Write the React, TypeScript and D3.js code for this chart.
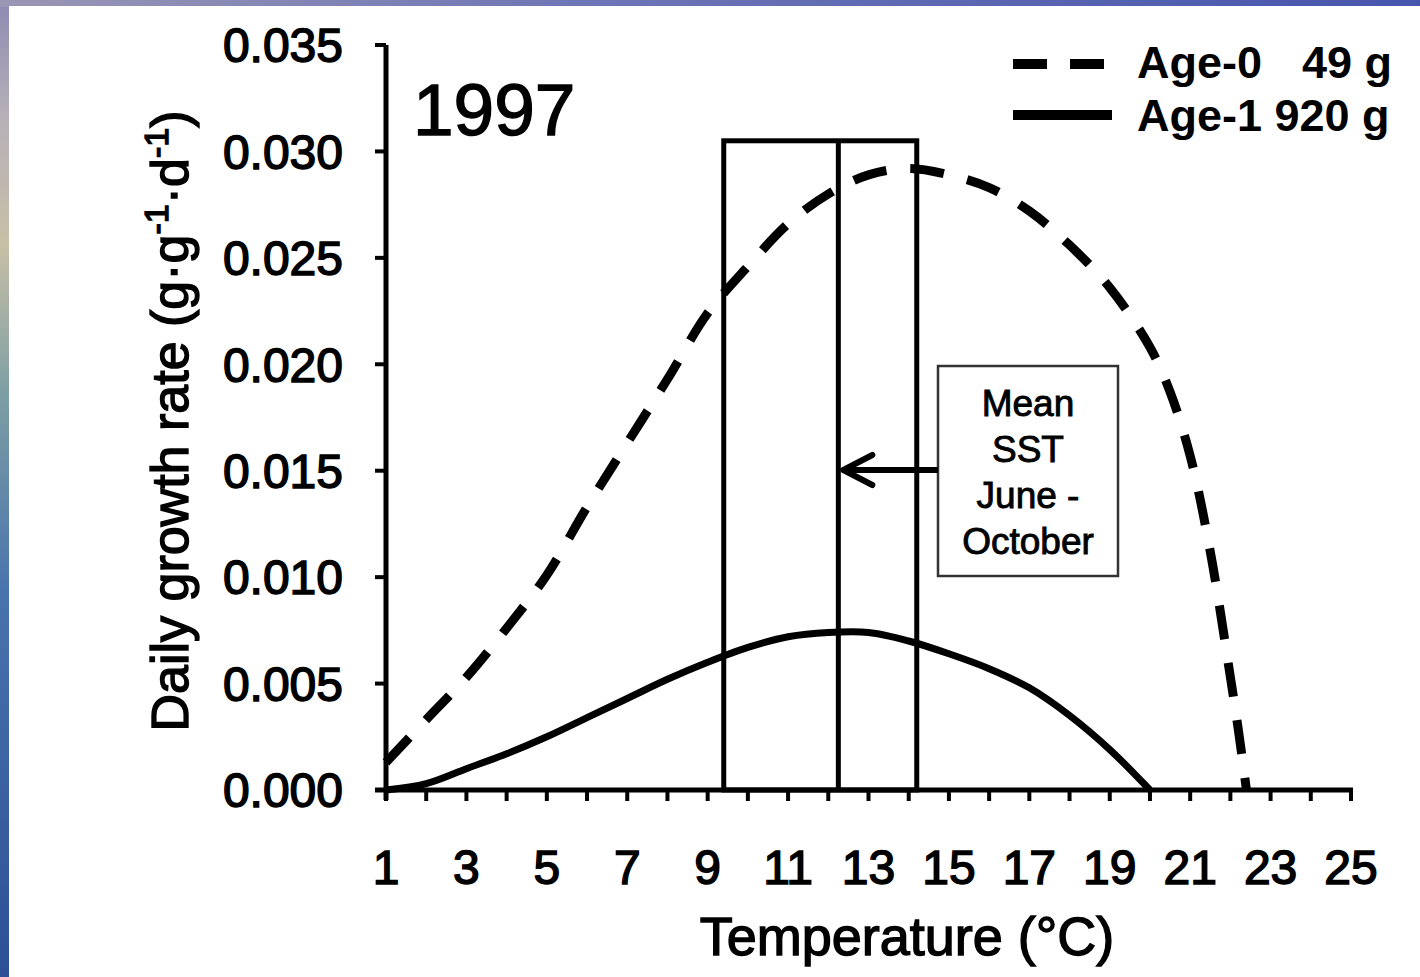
import React from "react";
import * as d3 from "d3";

// Temperature grid (°C) and modelled daily growth rates (g·g⁻¹·d⁻¹)
const age0Temps = [1, 2, 3, 4, 5, 6, 7, 8, 9, 10, 11, 12, 13, 14, 15, 16, 17, 18, 19, 20, 20.5, 21, 21.5, 22, 22.2, 22.4];
const age0Growth = [0.0013, 0.0033, 0.0053, 0.0076, 0.0101, 0.0133, 0.0163, 0.0193, 0.0224, 0.0246, 0.0266, 0.028, 0.0289, 0.0292, 0.0289, 0.0283, 0.0272, 0.0256, 0.0236, 0.0208, 0.0187, 0.0157, 0.0112, 0.0053, 0.0028, 0.0];

const age1Temps = [1, 2, 3, 4, 5, 6, 7, 8, 9, 10, 11, 12, 13, 14, 15, 16, 17, 18, 19, 20];
const age1Growth = [0.0, 0.0003, 0.001, 0.0017, 0.0025, 0.0034, 0.0043, 0.0052, 0.006, 0.0067, 0.0072, 0.0074, 0.0074, 0.007, 0.0064, 0.0057, 0.0048, 0.0035, 0.0019, 0.0];

// Observed SST range (June–October) and its mean
const sstLow = 9.4;
const sstMean = 12.25;
const sstHigh = 14.2;
const sstBoxTop = 0.0305;

const xTicks = d3.range(1, 26);
const xTickLabels = d3.range(1, 26, 2);
const yTicks = [0, 0.005, 0.01, 0.015, 0.02, 0.025, 0.03, 0.035];

const seriesLabels = ["Age-0", "49 g", "Age-1 920 g"];
const noteLines = ["Mean", "SST", "June -", "October"];
const yearLabel = "1997";

const W = 1420;
const H = 977;
const FONT = "'Liberation Sans', Arial, Helvetica, sans-serif";

export default function App() {
  const x = d3.scaleLinear().domain([1, 25]).range([386, 1351]);
  const y = d3.scaleLinear().domain([0, 0.035]).range([790, 45]);

  const line = d3
    .line<[number, number]>()
    .x((d) => x(d[0]))
    .y((d) => y(d[1]))
    .curve(d3.curveCatmullRom.alpha(0.5));

  const age0 = line(age0Temps.map((t, i) => [t, age0Growth[i]]) as [number, number][]) || "";
  const age1 = line(age1Temps.map((t, i) => [t, age1Growth[i]]) as [number, number][]) || "";

  const x0 = x(1);
  const y0 = y(0);
  const arrowY = 470;
  const noteBox = { x: 938, y: 366, w: 180, h: 210 };

  return (
    <svg
      width={W}
      height={H}
      viewBox={`0 0 ${W} ${H}`}
      style={{ position: "absolute", left: 0, top: 0, display: "block" }}
    >
      <defs>
        <linearGradient id="edgeLeft" x1="0" y1="0" x2="0" y2="1">
          <stop offset="0" stopColor="#8d8ab2" />
          <stop offset="0.12" stopColor="#b7b0b8" />
          <stop offset="0.25" stopColor="#c8bfa6" />
          <stop offset="0.4" stopColor="#7f9fa4" />
          <stop offset="0.6" stopColor="#4a74ad" />
          <stop offset="1" stopColor="#2c4f96" />
        </linearGradient>
        <linearGradient id="edgeTop" x1="0" y1="0" x2="1" y2="0">
          <stop offset="0" stopColor="#9a96b4" />
          <stop offset="0.4" stopColor="#6f76b6" />
          <stop offset="1" stopColor="#4656ad" />
        </linearGradient>
      </defs>

      {/* slide backdrop edges */}
      <rect x={0} y={0} width={W} height={H} fill="url(#edgeLeft)" />
      <rect x={0} y={0} width={W} height={7} fill="url(#edgeTop)" />
      <rect x={9} y={6} width={W - 9} height={H - 6} fill="#ffffff" />

      {/* SST range box and mean line */}
      <rect
        x={x(sstLow)}
        y={y(sstBoxTop)}
        width={x(sstHigh) - x(sstLow)}
        height={y(0) - y(sstBoxTop)}
        fill="none"
        stroke="#000"
        strokeWidth={5}
      />
      <line x1={x(sstMean)} x2={x(sstMean)} y1={y(sstBoxTop)} y2={y0} stroke="#000" strokeWidth={5} />

      {/* growth curves */}
      <path d={age1} fill="none" stroke="#000" strokeWidth={7} />
      <path d={age0} fill="none" stroke="#000" strokeWidth={9} strokeDasharray="34 24" />

      {/* axes */}
      <line x1={x0} x2={x0} y1={y(0.035)} y2={y0 + 10} stroke="#000" strokeWidth={5} />
      <line x1={x0 - 11} x2={x(25) + 2} y1={y0} y2={y0} stroke="#000" strokeWidth={5} />
      {yTicks.map((t) => (
        <line key={`yt${t}`} x1={x0 - 11} x2={x0} y1={y(t)} y2={y(t)} stroke="#000" strokeWidth={4} />
      ))}
      {xTicks.map((t) => (
        <line key={`xt${t}`} x1={x(t)} x2={x(t)} y1={y0} y2={y0 + 11} stroke="#000" strokeWidth={4} />
      ))}
      {yTicks.map((t) => (
        <text
          key={`yl${t}`}
          x={343}
          y={y(t)}
          dy="0.36em"
          textAnchor="end"
          fontFamily={FONT}
          fontSize={48}
          fill="#000"
          stroke="#000"
          strokeWidth={1.5}
        >
          {t.toFixed(3)}
        </text>
      ))}
      {xTickLabels.map((t) => (
        <text
          key={`xl${t}`}
          x={x(t)}
          y={884}
          textAnchor="middle"
          fontFamily={FONT}
          fontSize={48}
          fill="#000"
          stroke="#000"
          strokeWidth={1.5}
        >
          {t}
        </text>
      ))}

      {/* axis titles */}
      <text
        x={907}
        y={955}
        textAnchor="middle"
        fontFamily={FONT}
        fontSize={54}
        fill="#000"
        stroke="#000"
        strokeWidth={1.4}
      >
        Temperature (°C)
      </text>
      <text
        transform="translate(188,421) rotate(-90)"
        textAnchor="middle"
        fontFamily={FONT}
        fontSize={52}
        fill="#000"
        stroke="#000"
        strokeWidth={1.4}
      >
        Daily growth rate (g·g
        <tspan fontSize={34} dy={-20}>-1</tspan>
        <tspan dy={20}>·d</tspan>
        <tspan fontSize={34} dy={-20}>-1</tspan>
        <tspan dy={20}>)</tspan>
      </text>

      {/* year */}
      <text x={413} y={135} fontFamily={FONT} fontSize={73} fill="#000" stroke="#000" strokeWidth={1.4}>
        {yearLabel}
      </text>

      {/* legend */}
      <line x1={1013} x2={1105} y1={64} y2={64} stroke="#000" strokeWidth={10} strokeDasharray="34 23" />
      <line x1={1013} x2={1112} y1={115} y2={115} stroke="#000" strokeWidth={10} />
      <text x={1137} y={78} fontFamily={FONT} fontSize={45} fontWeight="bold" fill="#000">
        {seriesLabels[0]}
      </text>
      <text x={1392} y={78} textAnchor="end" fontFamily={FONT} fontSize={45} fontWeight="bold" fill="#000">
        {seriesLabels[1]}
      </text>
      <text x={1137} y={131} fontFamily={FONT} fontSize={45} fontWeight="bold" fill="#000">
        {seriesLabels[2]}
      </text>

      {/* annotation box with arrow to the mean SST */}
      <rect
        x={noteBox.x}
        y={noteBox.y}
        width={noteBox.w}
        height={noteBox.h}
        fill="#fff"
        stroke="#333"
        strokeWidth={2.5}
      />
      {noteLines.map((s, i) => (
        <text
          key={s}
          x={noteBox.x + noteBox.w / 2}
          y={416 + i * 46}
          textAnchor="middle"
          fontFamily={FONT}
          fontSize={37}
          fill="#000"
          stroke="#000"
          strokeWidth={0.9}
        >
          {s}
        </text>
      ))}
      <line x1={noteBox.x} x2={x(sstMean) + 6} y1={arrowY} y2={arrowY} stroke="#000" strokeWidth={6} />
      <path
        d={`M${x(sstMean) + 34},${arrowY - 15} L${x(sstMean) + 5},${arrowY} L${x(sstMean) + 34},${arrowY + 15}`}
        fill="none"
        stroke="#000"
        strokeWidth={6}
        strokeLinecap="round"
        strokeLinejoin="round"
      />
    </svg>
  );
}
